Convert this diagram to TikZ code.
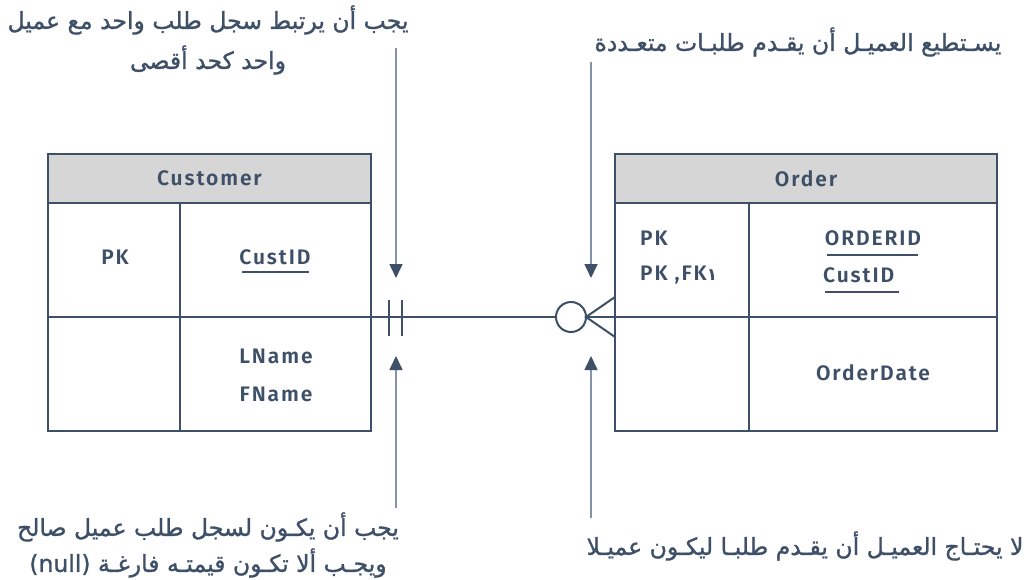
\documentclass[tikz,border=0pt]{standalone}
\usepackage{fontspec}
\setmainfont{Fira Sans}[BoldFont={Fira Sans SemiBold}, LetterSpace=9]
\newfontfamily\arabicfont[Script=Arabic, FakeBold=1.2]{DejaVu Sans}
\newfontfamily\digitfont[Script=Arabic]{DejaVu Sans}
\TeXXeTstate=1
\usetikzlibrary{arrows.meta}
\definecolor{ink}{HTML}{3E5068}
\definecolor{pale}{HTML}{8494A8}
\definecolor{hdrgray}{HTML}{D6D6D6}

\begin{document}
\begin{tikzpicture}[x=1pt, y=-1pt,
  cell/.style={draw=ink, line width=2pt, minimum height=114pt, inner sep=0pt, outer sep=0pt},
  head/.style={cell, fill=hdrgray, minimum height=49pt, text=ink, font=\bfseries\fontsize{21}{24}\selectfont},
  field/.style={text=ink, inner sep=0pt, font=\bfseries\fontsize{21}{24}\selectfont},
  note/.style={text=ink, align=center, font=\arabicfont\fontsize{23.5}{40}\selectfont},
  hint/.style={pale, line width=1.6pt, -{Triangle[length=14pt, width=13pt, color=ink]}},
  rel/.style={ink, line width=2pt}]
  \useasboundingbox (0,0) rectangle (1032,580);

  % Customer table
  \node[head, minimum width=323pt] (custhd) at (209.5,178.5) {Customer};
  \node[cell, minimum width=132pt] (custk1) at (114,260) {};
  \node[cell, minimum width=191pt] (custf1) at (275.5,260) {};
  \node[cell, minimum width=132pt] (custk2) at (114,374) {};
  \node[cell, minimum width=191pt] (custf2) at (275.5,374) {};
  \node[field] (pk1) at (115,257) {PK};
  \node[field] (cid1) at (275,257) {CustID};
  \node[field] (lname) at (276,356) {LName};
  \node[field] (fname) at (276,394) {FName};
  \draw[ink, line width=1.5pt] ([shift={(3,7)}]cid1.south west) -- ([shift={(-2,7)}]cid1.south east);

  % Order table
  \node[head, minimum width=382pt] (ordhd) at (806,178.5) {Order};
  \node[cell, minimum width=134pt] (ordk1) at (682,260) {};
  \node[cell, minimum width=248pt] (ordf1) at (873,260) {};
  \node[cell, minimum width=134pt] (ordk2) at (682,374) {};
  \node[cell, minimum width=248pt] (ordf2) at (873,374) {};
  \node[field, anchor=west] (pk2) at (640,238) {PK};
  \node[field, anchor=west] (pkfk) at (640,275) {PK ,FK{\digitfont\fontsize{17}{20}\selectfont ١}};
  \node[field] (oid) at (873,238) {ORDERID};
  \node[field, anchor=west] (cid2) at (823,275) {CustID};
  \node[field] (odate) at (873,373) {OrderDate};
  \draw[ink, line width=1.5pt] ([shift={(2,9)}]oid.south west) -- ([shift={(-3,9)}]oid.south east);
  \draw[ink, line width=1.5pt] ([shift={(2,9)}]cid2.south west) -- ([shift={(5,9)}]cid2.south east);

  % relationship
  \node[draw=ink, line width=2pt, circle, minimum size=30pt, inner sep=0pt, outer sep=0pt] (zero) at (571,317) {};
  \coordinate (foot1) at (615,297);
  \coordinate (foot2) at (615,337);
  \draw[rel] (custf2.north east) -- (zero.west);
  \draw[rel] (foot1) -- (zero.east) -- (foot2);
  \draw[rel] (zero.east) -- (ordk2.north west);
  \draw[rel] (389,300) -- (389,336);
  \draw[rel] (402,300) -- (402,336);

  % notes
  \node[note] (n1) at (208,40) {\beginR يجب أن يرتبط سجل طلب واحد مع عميل\endR\\\beginR واحد كحد أقصى\endR};
  \node[note] (n2) at (798,42) {\beginR يسـتطيع العميـل أن يقـدم طلبـات متعـددة\endR};
  \node[note, font=\arabicfont\fontsize{23.5}{36}\selectfont] (n3) at (208,545) {\beginR يجب أن يكـون لسجل طلب عميل صالح\endR\\\beginR ويجـب ألا تكـون قيمتـه فارغـة \beginL(null)\endL\endR};
  \node[note] (n4) at (805,546) {\beginR لا يحتـاج العميـل أن يقـدم طلبـا ليكـون عميـلا\endR};

  % pointers
  \coordinate (a1) at (396,48);
  \coordinate (b1) at (396,278);
  \coordinate (a2) at (396,508);
  \coordinate (b2) at (396,356);
  \coordinate (a3) at (591,62);
  \coordinate (b3) at (591,278);
  \coordinate (a4) at (591,518);
  \coordinate (b4) at (591,356);
  \draw[hint] (a1) -- (b1);
  \draw[hint] (a2) -- (b2);
  \draw[hint] (a3) -- (b3);
  \draw[hint] (a4) -- (b4);
\end{tikzpicture}
\end{document}
